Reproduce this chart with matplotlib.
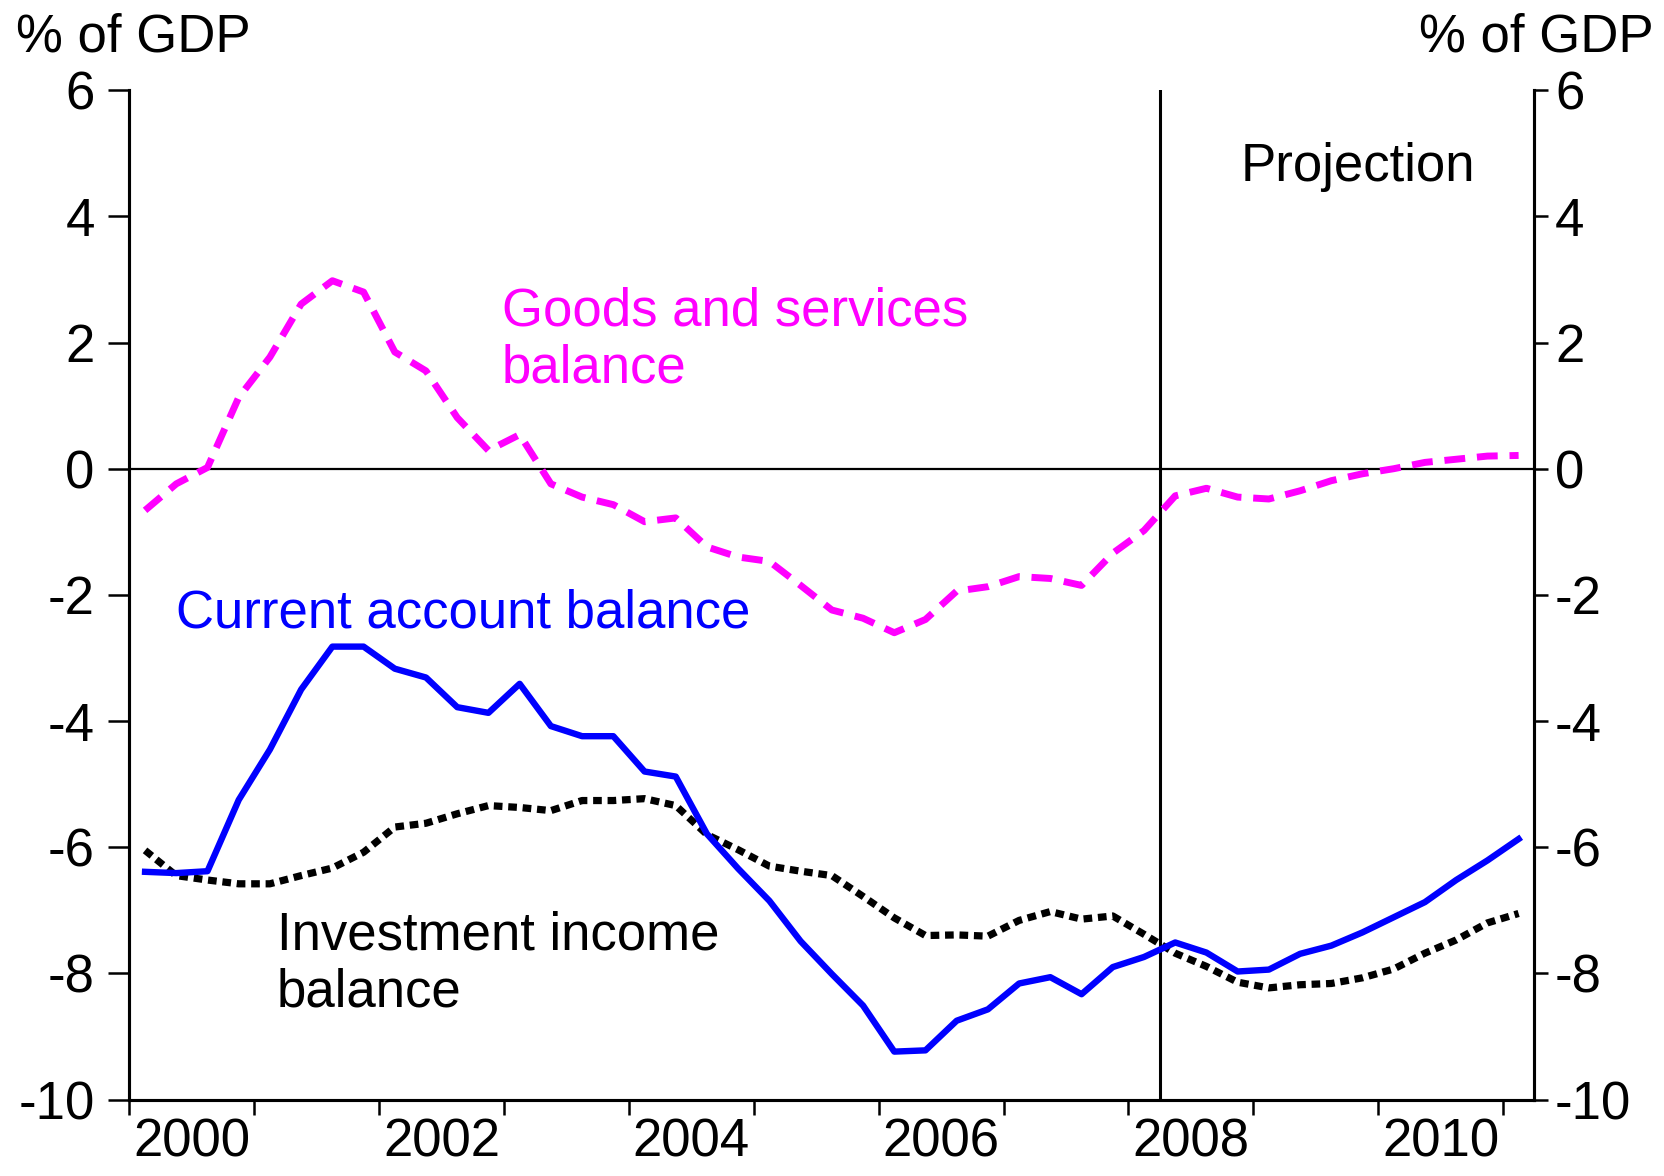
import numpy as np
import matplotlib
matplotlib.use("Agg")
from matplotlib import pyplot as plt
from matplotlib.ticker import FixedLocator, NullFormatter

plt.rcParams['font.family'] = ['Liberation Sans', 'DejaVu Sans']

# quarterly data, 2000 Q1 to 2011 Q1 (% of GDP)
quarters = 2000.125 + 0.25 * np.arange(45)

current_account = [-6.39, -6.41, -6.38, -5.25, -4.45, -3.50, -2.82, -2.82, -3.17, -3.31,
                   -3.78, -3.87, -3.41, -4.08, -4.24, -4.24, -4.80, -4.88, -5.79, -6.34,
                   -6.85, -7.49, -8.01, -8.51, -9.24, -9.22, -8.75, -8.57, -8.16, -8.06,
                   -8.33, -7.90, -7.74, -7.51, -7.67, -7.97, -7.94, -7.69, -7.56, -7.35,
                   -7.11, -6.87, -6.52, -6.21, -5.87]

goods_services = [-0.66, -0.24, 0.02, 1.13, 1.77, 2.61, 2.98, 2.80, 1.85, 1.55,
                  0.81, 0.29, 0.54, -0.24, -0.45, -0.57, -0.84, -0.78, -1.24, -1.40,
                  -1.47, -1.85, -2.24, -2.37, -2.60, -2.39, -1.94, -1.87, -1.71, -1.74,
                  -1.85, -1.34, -0.98, -0.43, -0.31, -0.45, -0.48, -0.35, -0.19, -0.08,
                  0.0, 0.10, 0.15, 0.20, 0.21]

investment_income = [-6.05, -6.45, -6.52, -6.58, -6.58, -6.45, -6.33, -6.08, -5.68, -5.62,
                     -5.47, -5.34, -5.37, -5.42, -5.26, -5.26, -5.23, -5.34, -5.80, -6.04,
                     -6.30, -6.38, -6.45, -6.78, -7.12, -7.40, -7.39, -7.41, -7.16, -7.02,
                     -7.14, -7.09, -7.38, -7.68, -7.89, -8.14, -8.23, -8.18, -8.16, -8.07,
                     -7.93, -7.68, -7.47, -7.20, -7.05]

year_ticks = list(range(2000, 2012))
year_labels = ['2000', '2002', '2004', '2006', '2008', '2010']
y_ticks = [-10, -8, -6, -4, -2, 0, 2, 4, 6]
projection_start = 2008.25

fs = 38

fig = plt.figure(figsize=(16.64, 11.76), dpi=100)
ax = fig.add_axes([0.0778, 0.065, 0.8442, 0.8583])

ax.axhline(0, color='black', lw=1.6, zorder=1)
ax.axvline(projection_start, color='black', lw=2.2, zorder=1)

ax.plot(quarters, investment_income, color='black', lw=5.2, dashes=(1.2, 0.8),
        dash_capstyle='butt', zorder=3)
ax.plot(quarters, current_account, color='#0000ff', lw=4.6, zorder=4)
ax.plot(quarters, goods_services, color='#ff00ff', lw=5.0, dashes=(3.0, 1.7),
        dash_capstyle='butt', zorder=3)

ax.set_xlim(2000, 2011.25)
ax.set_ylim(-10, 6)
ax.set_yticks(y_ticks)
ax.set_yticklabels([str(v) for v in y_ticks])

ax.xaxis.set_major_locator(FixedLocator(year_ticks))
ax.xaxis.set_major_formatter(NullFormatter())
ax.xaxis.set_minor_locator(FixedLocator([int(y) + 0.5 for y in year_labels]))
ax.set_xticklabels(year_labels, minor=True)
ax.tick_params(axis='x', which='major', direction='out', length=11, width=1.8)
ax.tick_params(axis='x', which='minor', length=0, labelsize=fs, pad=13)
ax.tick_params(axis='y', direction='out', length=15, width=1.8, labelsize=fs, pad=10)

ax2 = ax.twinx()
ax2.set_ylim(-10, 6)
ax2.set_yticks(y_ticks)
ax2.set_yticklabels([str(v) for v in y_ticks])
ax2.tick_params(axis='y', direction='out', length=10, width=1.8, labelsize=fs, pad=5)

for a in (ax, ax2):
    a.spines['top'].set_visible(False)
    for s in ('left', 'right', 'bottom'):
        a.spines[s].set_linewidth(2.2)

fig.text(0.0096, 0.968, '% of GDP', fontsize=fs, ha='left', va='center')
fig.text(0.994, 0.968, '% of GDP', fontsize=fs, ha='right', va='center')

ax.text(2008.9, 4.78, 'Projection', fontsize=fs, ha='left', va='center')
ax.text(2002.98, 2.04, 'Goods and services\nbalance', fontsize=fs, color='#ff00ff',
        ha='left', va='center', linespacing=1.2)
ax.text(2000.37, -2.29, 'Current account balance', fontsize=fs, color='#0000ff',
        ha='left', va='center')
ax.text(2001.18, -7.85, 'Investment income\nbalance', fontsize=fs, color='black',
        ha='left', va='center', linespacing=1.2)

fig.savefig('out.png', dpi=100)
